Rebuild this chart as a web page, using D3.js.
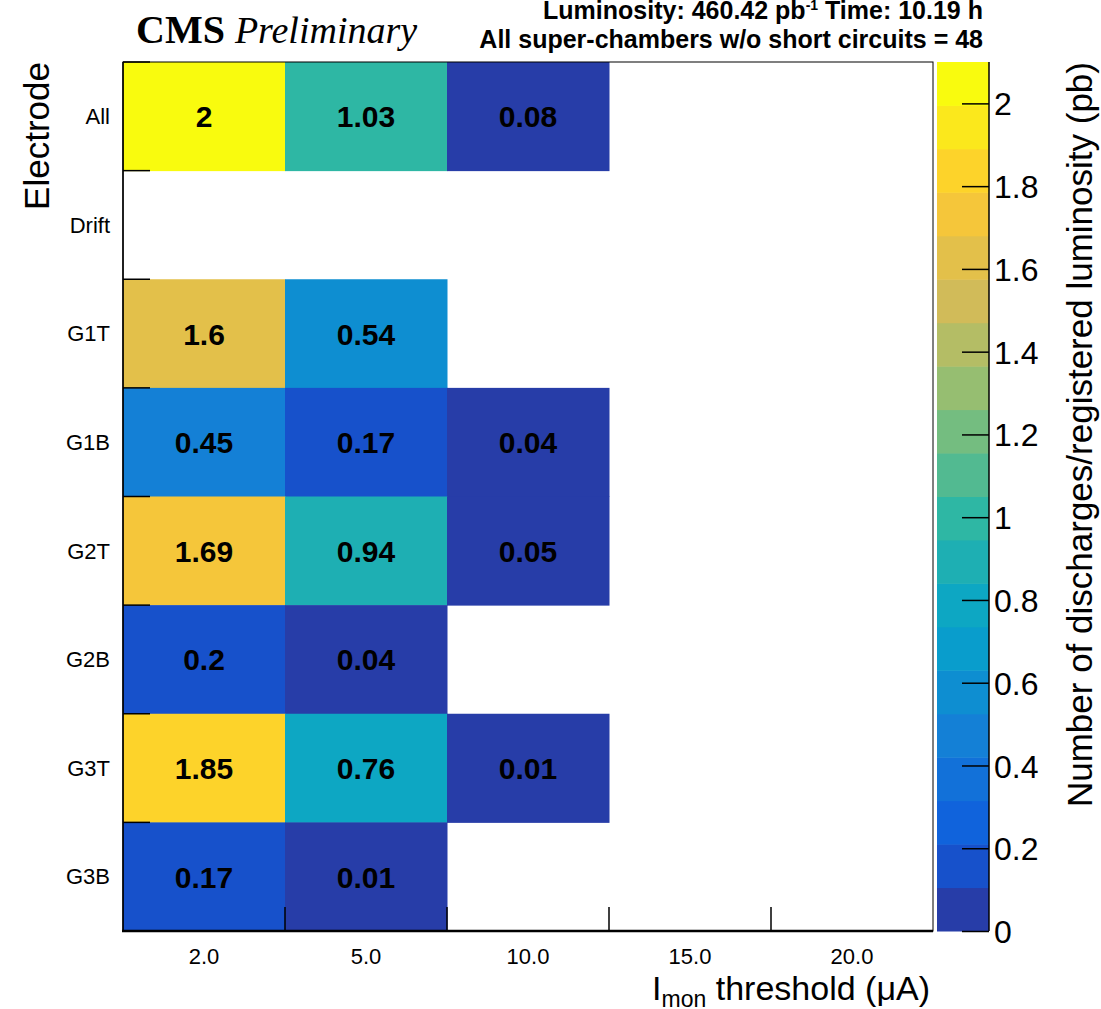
<!DOCTYPE html>
<html>
<head>
<meta charset="utf-8">
<script src="https://cdn.jsdelivr.net/npm/d3@7"></script>
<style>
  body { margin: 0; background: #fff; }
  svg { display: block; font-family: 'Liberation Sans', Arial, sans-serif; }
  .axis path { display: none; }
  .axis text { fill: #000; font-family: 'Liberation Sans', Arial, sans-serif; }
</style>
</head>
<body>
<svg width="1101" height="1009"></svg>
<script>
(function (d3) {
  'use strict';

  // categorias dos eixos
  const thresholds = ['2.0', '5.0', '10.0', '15.0', '20.0'];
  const electrodes = ['All', 'Drift', 'G1T', 'G1B', 'G2T', 'G2B', 'G3T', 'G3B'];

  // taxa por eletrodo, uma entrada por limiar (null = vazio)
  const rateAll   = [2, 1.03, 0.08, null, null];
  const rateDrift = [null, null, null, null, null];
  const rateG1T   = [1.6, 0.54, null, null, null];
  const rateG1B   = [0.45, 0.17, 0.04, null, null];
  const rateG2T   = [1.69, 0.94, 0.05, null, null];
  const rateG2B   = [0.2, 0.04, null, null, null];
  const rateG3T   = [1.85, 0.76, 0.01, null, null];
  const rateG3B   = [0.17, 0.01, null, null, null];
  const rates = [rateAll, rateDrift, rateG1T, rateG1B, rateG2T, rateG2B, rateG3T, rateG3B];

  const zTicks = [0, 0.2, 0.4, 0.6, 0.8, 1, 1.2, 1.4, 1.6, 1.8, 2];
  const zMax = 2.1;
  const nContours = 20;

  const FRAME = { left: 123, right: 933, top: 62, bottom: 931 };
  const BAR = { left: 937, right: 989 };

  // paleta kBird do ROOT
  const birdStops = [0, 0.125, 0.25, 0.375, 0.5, 0.625, 0.75, 0.875, 1];
  const birdR = [0.2082, 0.0592, 0.0780, 0.0232, 0.1802, 0.5301, 0.8186, 0.9956, 0.9764];
  const birdG = [0.1664, 0.3599, 0.5041, 0.6419, 0.7178, 0.7492, 0.7328, 0.7862, 0.9832];
  const birdB = [0.5293, 0.8684, 0.8385, 0.7914, 0.6425, 0.4662, 0.3499, 0.1968, 0.0539];
  const bird = d3.scaleLinear()
    .domain(birdStops)
    .range(birdStops.map((s, i) => d3.rgb(birdR[i] * 255, birdG[i] * 255, birdB[i] * 255)))
    .interpolate(d3.interpolateRgb);

  const bandOf = v => Math.max(0, Math.min(nContours - 1, Math.floor(v / zMax * nContours)));
  const bandColor = i => bird(Math.floor((i + 0.99) * 255 / nContours) / 254);
  const colorOf = v => bandColor(bandOf(v));

  const svg = d3.select('svg');

  const x = d3.scaleBand().domain(thresholds).range([FRAME.left, FRAME.right]);
  const y = d3.scaleBand().domain(electrodes).range([FRAME.top, FRAME.bottom]);
  const z = d3.scaleLinear().domain([0, zMax]).range([FRAME.bottom, FRAME.top]);

  const cells = [];
  rates.forEach((row, r) => row.forEach((v, c) => {
    if (v !== null) cells.push({ e: electrodes[r], t: thresholds[c], v });
  }));

  // celulas
  svg.append('g').selectAll('rect')
    .data(cells)
    .enter()
    .append('rect')
    .attr('x', d => x(d.t))
    .attr('y', d => y(d.e))
    .attr('width', x.bandwidth() + 0.5)
    .attr('height', y.bandwidth() + 0.5)
    .attr('fill', d => colorOf(d.v));

  svg.append('g').selectAll('text')
    .data(cells)
    .enter()
    .append('text')
    .attr('x', d => x(d.t) + x.bandwidth() / 2)
    .attr('y', d => y(d.e) + y.bandwidth() / 2 + 11)
    .attr('text-anchor', 'middle')
    .attr('font-weight', 'bold')
    .attr('font-size', 30)
    .text(d => d3.format('~g')(d.v));

  // moldura
  svg.append('rect')
    .attr('x', FRAME.left).attr('y', FRAME.top)
    .attr('width', FRAME.right - FRAME.left).attr('height', FRAME.bottom - FRAME.top)
    .attr('fill', 'none').attr('stroke', '#000').attr('stroke-width', 1);
  svg.append('line')
    .attr('x1', FRAME.left - 1).attr('x2', FRAME.right)
    .attr('y1', FRAME.bottom).attr('y2', FRAME.bottom)
    .attr('stroke', '#000').attr('stroke-width', 2.5);
  svg.append('line')
    .attr('x1', FRAME.left).attr('x2', FRAME.left)
    .attr('y1', FRAME.top).attr('y2', FRAME.bottom)
    .attr('stroke', '#000').attr('stroke-width', 1.5);

  // marcas nas fronteiras
  const yEdges = electrodes.map(e => y(e));
  svg.append('g').selectAll('line')
    .data(yEdges)
    .enter()
    .append('line')
    .attr('x1', FRAME.left).attr('x2', FRAME.left + 27)
    .attr('y1', d => d).attr('y2', d => d)
    .attr('stroke', '#000').attr('stroke-width', 1.5);

  const xEdges = thresholds.slice(1).map(t => x(t));
  svg.append('g').selectAll('line')
    .data(xEdges)
    .enter()
    .append('line')
    .attr('x1', d => d).attr('x2', d => d)
    .attr('y1', FRAME.bottom).attr('y2', FRAME.bottom - 24)
    .attr('stroke', '#000').attr('stroke-width', 1.5);

  // rotulos dos eixos
  svg.append('g')
    .attr('class', 'axis')
    .attr('transform', `translate(${FRAME.left},0)`)
    .call(d3.axisLeft(y).tickSize(0).tickPadding(13))
    .selectAll('text')
    .attr('font-size', 22)
    .attr('dy', '0.35em');

  svg.append('g')
    .attr('class', 'axis')
    .attr('transform', `translate(0,${FRAME.bottom})`)
    .call(d3.axisBottom(x).tickSize(0).tickPadding(17))
    .selectAll('text')
    .attr('font-size', 22);

  // barra de cores
  const bands = d3.range(nContours);
  svg.append('g').selectAll('rect')
    .data(bands)
    .enter()
    .append('rect')
    .attr('x', BAR.left)
    .attr('width', BAR.right - BAR.left)
    .attr('y', i => z((i + 1) * zMax / nContours))
    .attr('height', i => z(i * zMax / nContours) - z((i + 1) * zMax / nContours) + 0.5)
    .attr('fill', bandColor);

  svg.append('line')
    .attr('x1', BAR.right).attr('x2', BAR.right)
    .attr('y1', FRAME.top).attr('y2', FRAME.bottom)
    .attr('stroke', '#000').attr('stroke-width', 1.5);

  const zAxis = svg.append('g')
    .attr('class', 'axis')
    .attr('transform', `translate(${BAR.right},0)`)
    .call(d3.axisRight(z).tickValues(zTicks).tickSize(-27).tickPadding(5).tickFormat(d3.format('~g')));
  zAxis.selectAll('line').attr('stroke', '#000').attr('stroke-width', 1.5);
  zAxis.selectAll('text').attr('font-size', 32).attr('dy', '0.36em');

  // titulos
  svg.append('text')
    .attr('transform', `translate(49,${FRAME.top}) rotate(-90)`)
    .attr('text-anchor', 'end')
    .attr('font-size', 35)
    .text('Electrode');

  const xTitle = svg.append('text')
    .attr('x', 930).attr('y', 1000)
    .attr('text-anchor', 'end')
    .attr('font-size', 34);
  xTitle.append('tspan').text('I');
  xTitle.append('tspan').attr('font-size', 23).attr('dy', 7).text('mon');
  xTitle.append('tspan').attr('dy', -7).text(' threshold (\u03bcA)');

  svg.append('text')
    .attr('transform', `translate(1092,${FRAME.top}) rotate(-90)`)
    .attr('text-anchor', 'end')
    .attr('font-size', 35)
    .text('Number of discharges/registered luminosity (pb)');

  const cms = svg.append('text')
    .attr('x', 136).attr('y', 43)
    .attr('font-family', "'Liberation Serif', 'Times New Roman', serif");
  cms.append('tspan').attr('font-weight', 'bold').attr('font-size', 40).text('CMS');
  cms.append('tspan').attr('font-style', 'italic').attr('font-size', 38).attr('dx', 10).text('Preliminary');

  const lumi = svg.append('text')
    .attr('x', 983).attr('y', 19)
    .attr('text-anchor', 'end')
    .attr('font-weight', 'bold')
    .attr('font-size', 25);
  lumi.append('tspan').text('Luminosity: 460.42 pb');
  lumi.append('tspan').attr('font-size', 14).attr('dy', -9).text('-1');
  lumi.append('tspan').attr('dy', 9).text(' Time: 10.19 h');

  svg.append('text')
    .attr('x', 983).attr('y', 48)
    .attr('text-anchor', 'end')
    .attr('font-weight', 'bold')
    .attr('font-size', 25)
    .text('All super-chambers w/o short circuits = 48');

}(d3));
</script>
</body>
</html>
